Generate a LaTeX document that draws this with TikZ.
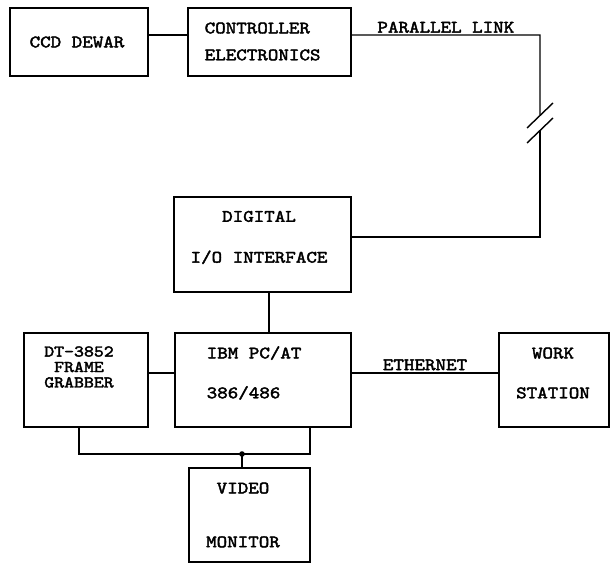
\documentclass[tikz,border=0pt]{standalone}
\usepackage{fontspec}
\newfontfamily\boxtt{lmmono10-regular.otf}[FakeBold=2.4, FakeStretch=1.15]
\usepackage{tikz}
\usetikzlibrary{positioning}

\newcommand{\lblfont}[1]{\boxtt\fontsize{17.5}{#1}\selectfont}

\begin{document}
\begin{tikzpicture}[x=1bp, y=-1bp, line width=1.4bp,
    blk/.style={draw, inner sep=0pt},
    txt/.style={inner sep=0pt, align=center, font=\lblfont{20}}]
  \useasboundingbox (0,0) rectangle (615,563);

  % boxes
  \node[blk, minimum width=138bp, minimum height=68bp] (ccd) at (79,42) {};
  \node[blk, minimum width=163bp, minimum height=68bp] (ctrl) at (269.5,42) {};
  \node[blk, minimum width=177bp, minimum height=95bp] (dio) at (262.5,244.5) {};
  \node[blk, minimum width=124bp, minimum height=94bp] (grab) at (86,380) {};
  \node[blk, minimum width=176bp, minimum height=94bp] (ibm) at (263,380) {};
  \node[blk, minimum width=110bp, minimum height=94bp] (ws) at (554,380) {};
  \node[blk, minimum width=121bp, minimum height=94bp] (mon) at (249.5,515) {};

  % texts
  \node[txt] (ccdtxt) at (77,42) {CCD DEWAR};
  \node[txt, align=left, anchor=west, font=\lblfont{27}] (ctrltxt) at (204,41.5) {CONTROLLER\\ELECTRONICS};
  \node[txt, font=\lblfont{41}] (diotxt) at (259,237.5) {DIGITAL\\I/O INTERFACE};
  \node[txt, font={\boxtt\fontsize{16.5}{15.5}\selectfont}] (grabtxt) at (79,367) {DT-3852\\FRAME\\GRABBER};
  \node[txt, align=left, anchor=west, font=\lblfont{40}] (ibmtxt) at (206,373) {IBM PC/AT\\386/486};
  \node[txt, font=\lblfont{40}] (wstxt) at (553,373) {WORK\\STATION};
  \node[txt, font=\lblfont{54}] (montxt) at (243,515) {VIDEO\\MONITOR};

  % parallel link with break
  \coordinate (bend) at (540,35);
  \coordinate (brkA) at (540,115.5);
  \coordinate (brkB) at (540,130.5);
  \coordinate (bend2) at (540,237);
  \draw ([yshift=7bp]ccd.east) -- ([yshift=7bp]ctrl.east -| ctrl.west);
  \draw ([yshift=7bp]ctrl.east) -- node[txt, above=1.5bp] (plink) {PARALLEL LINK} (bend) -- (brkA);
  \draw ([shift={(-13,12.5)}]brkA) -- ([shift={(13,-12.5)}]brkA);
  \draw ([shift={(-13,12.5)}]brkB) -- ([shift={(13,-12.5)}]brkB);
  \draw (brkB) -- (bend2) -- (bend2 -| dio.east);

  % pc connections
  \draw ([xshift=6.5bp]dio.south) -- ([xshift=6.5bp]dio.south |- ibm.north);
  \draw ([yshift=7bp]grab.east) -- ([yshift=7bp]grab.east -| ibm.west);
  \draw ([yshift=7bp]ibm.east) -- node[txt, above=2bp] (eth) {ETHERNET} ([yshift=7bp]ibm.east -| ws.west);

  % video bus
  \coordinate (jn) at (242,454);
  \draw ([xshift=-7bp]grab.south) |- (jn) -| ([xshift=47bp]ibm.south);
  \fill (jn) circle (2.8bp);
  \draw (jn) -- (jn |- mon.north);
\end{tikzpicture}
\end{document}
